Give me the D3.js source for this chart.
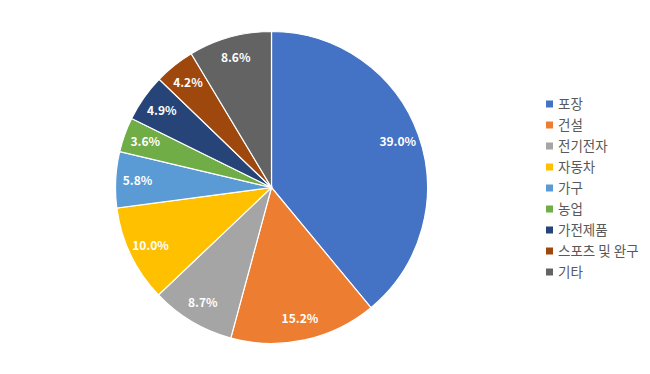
<!DOCTYPE html>
<html>
  <head>
    <meta charset="utf-8">
    <title>Pie</title>
    <script src="https://cdn.jsdelivr.net/npm/d3@7"></script>
    <style type="text/css">
      body { margin: 0; background: #fff; }
      text { font-family: "Noto Sans CJK KR", "Noto Sans", sans-serif; }
    </style>
  </head>
  <body>
    <script>
    // chart size
    var svgWidth = 650;
    var svgHeight = 374;

    // data
    var categories = ["포장", "건설", "전기전자", "자동차", "가구", "농업", "가전제품", "스포츠 및 완구", "기타"];
    var values = [39.0, 15.2, 8.7, 10.0, 5.8, 3.6, 4.9, 4.2, 8.6];
    var colors = ["#4472C4", "#ED7D31", "#A5A5A5", "#FFC000", "#5B9BD5", "#70AD47", "#264478", "#9E480E", "#636363"];

    var cx = 271.5, cy = 187.5, radius = 156;

    var svg = d3.select("body")
      .append("svg")
        .attr("width", svgWidth)
        .attr("height", svgHeight);

    var pie = d3.pie().sort(null).value(function(d){ return d; });
    var arcs = pie(values);

    var arc = d3.arc().innerRadius(0).outerRadius(radius);
    var labelArc = d3.arc().innerRadius(radius * 0.86).outerRadius(radius * 0.86);

    var g = svg.append("g").attr("transform", "translate(" + cx + "," + cy + ")");

    g.selectAll("path")
      .data(arcs)
      .enter()
      .append("path")
      .attr("d", arc)
      .attr("fill", function(d, i){ return colors[i]; })
      .attr("stroke", "#fff")
      .attr("stroke-width", 1.2);

    g.selectAll("text")
      .data(arcs)
      .enter()
      .append("text")
      .attr("transform", function(d){ return "translate(" + labelArc.centroid(d) + ")"; })
      .attr("text-anchor", "middle")
      .attr("dy", "0.35em")
      .attr("fill", "#fff")
      .attr("font-size", "12px")
      .attr("font-weight", "bold")
      .text(function(d){ return d.data.toFixed(1) + "%"; });

    // legend
    var legendY = d3.scaleLinear().domain([0, categories.length - 1]).range([104, 272]);

    var legend = svg.selectAll(".legend")
      .data(categories)
      .enter()
      .append("g")
      .attr("class", "legend")
      .attr("transform", function(d, i){ return "translate(546," + legendY(i) + ")"; });

    legend.append("rect")
      .attr("x", 0)
      .attr("y", -3.5)
      .attr("width", 7)
      .attr("height", 7)
      .attr("fill", function(d, i){ return colors[i]; });

    legend.append("text")
      .attr("x", 12)
      .attr("dy", "0.36em")
      .attr("font-size", "13.5px")
      .attr("fill", "#595959")
      .text(function(d){ return d; });
    </script>
  </body>
</html>
